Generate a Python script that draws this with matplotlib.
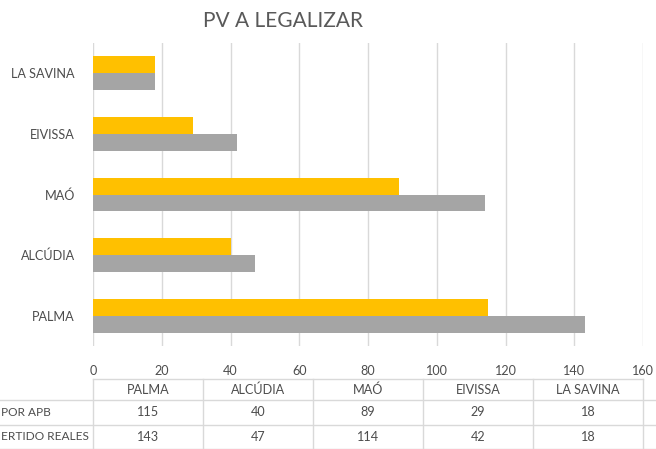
import numpy as np
import matplotlib
matplotlib.use('Agg')
import matplotlib.pyplot as plt
from matplotlib.transforms import blended_transform_factory

# puertos, de abajo hacia arriba
ports = ['PALMA', 'ALCÚDIA', 'MAÓ', 'EIVISSA', 'LA SAVINA']
por_apb = [115, 40, 89, 29, 18]
reales = [143, 47, 114, 42, 18]
row_labels = ['POR APB', 'ERTIDO REALES']
xticks = [0, 20, 40, 60, 80, 100, 120, 140, 160]

YELLOW = '#FFC000'
GREY = '#A5A5A5'
TEXT = '#4D4D4D'
LINE = '#D9D9D9'
FS = 9.1

plt.rcParams['font.family'] = ['Lato', 'DejaVu Sans']

W, H = 656, 449
fig = plt.figure(figsize=(W / 100, H / 100), dpi=100)
ax_left, ax_right, ax_top, ax_bottom = 93, 643, 43, 346
ax = fig.add_axes([ax_left / W, 1 - ax_bottom / H,
                   (ax_right - ax_left) / W, (ax_bottom - ax_top) / H])

y = np.arange(len(ports))
h = 0.28
ax.barh(y + h / 2, por_apb, height=h, color=YELLOW, zorder=3)
ax.barh(y - h / 2, reales, height=h, color=GREY, zorder=3)

ax.set_xlim(0, 160)
ax.set_ylim(-0.5, len(ports) - 0.5)
ax.set_xticks(xticks)
ax.set_yticks(y)
ax.set_yticklabels(ports)
ax.grid(axis='x', color=LINE, linewidth=1, zorder=0)
ax.tick_params(axis='both', length=0, labelcolor=TEXT, labelsize=FS)
ax.tick_params(axis='y', pad=13)
ax.tick_params(axis='x', pad=14)
for s in ax.spines.values():
    s.set_visible(False)

fig.text(283 / W, 1 - 21 / H, 'PV A LEGALIZAR', ha='center', va='center',
         fontsize=15, color='#595959')

# tabla de datos debajo del eje
tr = blended_transform_factory(ax.transData, fig.transFigure)
fy = lambda px: 1 - px / H
row_lines = [379, 400, 425, 449]
col_w = 160 / len(ports)
col_edges = [i * col_w for i in range(len(ports) + 1)]

ax.plot([0, 160], [fy(row_lines[0])] * 2, transform=tr, color=LINE, lw=1, clip_on=False)
for py in row_lines[1:]:
    fig.add_artist(plt.Line2D([0, 1], [fy(py)] * 2, color=LINE, lw=1))
for xe in col_edges:
    ax.plot([xe, xe], [fy(row_lines[0]), 0], transform=tr, color=LINE, lw=1, clip_on=False)

centers = [(col_edges[i] + col_edges[i + 1]) / 2 for i in range(len(ports))]
for cx, name, a, b in zip(centers, ports, por_apb, reales):
    ax.text(cx, fy(390), name, transform=tr, ha='center', va='center', fontsize=FS, color=TEXT)
    ax.text(cx, fy(412), str(a), transform=tr, ha='center', va='center', fontsize=FS, color=TEXT)
    ax.text(cx, fy(437), str(b), transform=tr, ha='center', va='center', fontsize=FS, color=TEXT)

fig.text(1 / W, fy(412), row_labels[0], ha='left', va='center', fontsize=8.6, color=TEXT)
fig.text(1 / W, fy(437), row_labels[1], ha='left', va='center', fontsize=8.6, color=TEXT)

fig.savefig('out.png', dpi=100)
